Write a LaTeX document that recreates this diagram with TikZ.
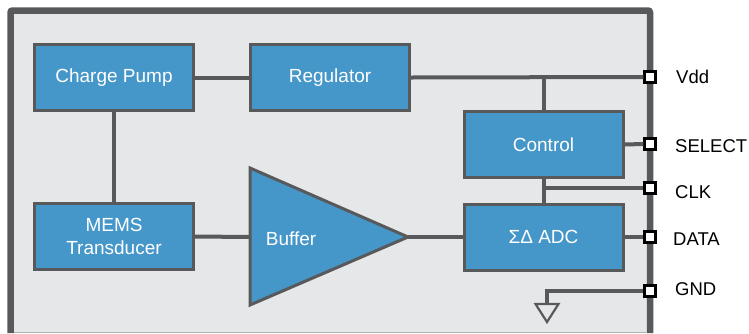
\documentclass[tikz,border=0pt]{standalone}
\usepackage{fontspec}
\setmainfont{Liberation Sans}
\usetikzlibrary{positioning}
\definecolor{chipgray}{HTML}{E6E7E8}
\definecolor{wiregray}{HTML}{58595B}
\definecolor{blockblue}{HTML}{4596C9}
\tikzset{
  block/.style={draw=wiregray,line width=3pt,fill=blockblue,text=white,
    minimum width=159pt,minimum height=66pt,inner sep=0pt,align=center,
    font=\fontsize{19}{23}\selectfont},
  wire/.style={wiregray,line width=4pt},
  pin/.style={draw=black,line width=2.2pt,fill=white,minimum size=11pt,inner sep=0pt},
  pinlabel/.style={anchor=west,inner sep=0pt,font=\fontsize{18.5}{22}\selectfont}
}
\begin{document}
\begin{tikzpicture}[x=1pt,y=-1pt]
				\useasboundingbox (0,0) rectangle (749,333);
				% chip outline
				\fill[chipgray] (10.5,10.5) rectangle (650,333);
				\draw[gray!60,line width=1pt] (14,332) -- (646,332);
				\draw[wiregray,line width=6.5pt,rounded corners=2pt] (10.5,333) -- (10.5,10.5) -- (650,10.5) -- (650,333);
				% blocks
				\node[block] (pump) at (114,77.5) {Charge Pump};
				\node[block] (reg) at (330,77.5) {Regulator};
				\node[block] (ctrl) at (543.5,144.5) {Control};
				\node[block] (adc) at (543.5,237) {ΣΔ ADC};
				\node[block] (mems) at (114,236.5) {MEMS\\Transducer};
				% buffer
				\coordinate (bufin) at (250,237);
				\coordinate (bufout) at (408,237);
				\draw[wiregray,line width=3pt,fill=blockblue,line join=miter] (250,168) -- (bufout) -- (250,305) -- cycle;
				\node[text=white,font=\fontsize{19}{22}\selectfont] (buf) at (291,239) {Buffer};
				% pins
				\node[pin] (vdd) at (650,77) {};
				\node[pin] (sel) at (650,144) {};
				\node[pin] (clk) at (650,188) {};
				\node[pin] (data) at (650,237) {};
				\node[pin] (gnd) at (650,291) {};
				\node[pinlabel] at (676,77) {Vdd};
				\node[pinlabel] at (675,146) {SELECT};
				\node[pinlabel] at (675,192) {CLK};
				\node[pinlabel] at (673,239) {DATA};
				\node[pinlabel] at (675,289) {GND};
				% wires
				\draw[wire] (pump.east) -- (reg.west);
				\draw[wire] (reg.east) -- (vdd.west);
				\draw[wire] (ctrl.north) -- (ctrl.north |- vdd);
				\draw[wire] (ctrl.east) -- (sel.west);
				\draw[wire] (ctrl.south) -- (adc.north);
				\draw[wire] (ctrl.south |- clk) -- (clk.west);
				\draw[wire] (adc.east) -- (data.west);
				\draw[wire] (pump.south) -- (mems.north);
				\draw[wire] (mems.east) -- (bufin);
				\draw[wire] (bufout) -- (adc.west);
				% ground
				\coordinate (gndtop) at (547,304);
				\draw[wire,line join=miter] (gnd.west) -| (gndtop);
				\draw[wiregray,line width=2.2pt,fill=chipgray,line join=miter] (535.5,304) -- (558.5,304) -- (547,322) -- cycle;
			\end{tikzpicture}
\end{document}
